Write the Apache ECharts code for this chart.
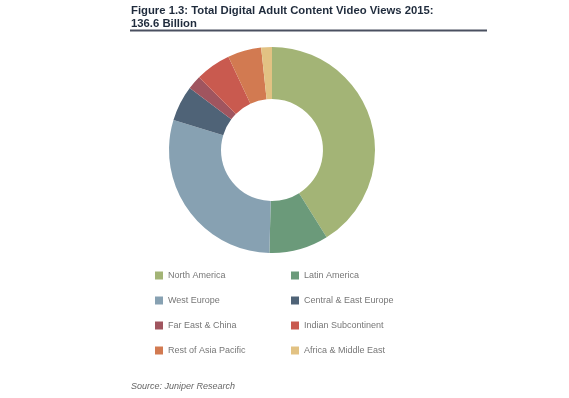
<!DOCTYPE html>
<html>
<head>
<meta charset="utf-8">
<script src="https://cdn.jsdelivr.net/npm/echarts@6/dist/echarts.min.js"></script>
<style>
  html, body { margin: 0; padding: 0; background: #fff; }
  #chart { width: 569px; height: 398px; }
</style>
</head>
<body>
<div id="chart"></div>
<script>
const regions = [
  "North America", "Latin America", "West Europe", "Central & East Europe",
  "Far East & China", "Indian Subcontinent", "Rest of Asia Pacific", "Africa & Middle East"
];
const views = [56.1, 12.7, 40.0, 7.6, 3.0, 7.6, 7.2, 2.3];
const colors = ["#a3b476", "#6b9a7a", "#87a1b2", "#4f6377", "#a0555f", "#c95a4f", "#d27a51", "#e2c283"];

// legend columns
const leftCol = [regions[0], regions[2], regions[4], regions[6]];
const rightCol = [regions[1], regions[3], regions[5], regions[7]];

const chart = echarts.init(document.getElementById("chart"));

const legendBase = {
  orient: "vertical",
  top: 271,
  padding: 0,
  itemWidth: 8,
  itemHeight: 8,
  itemGap: 16,
  icon: "rect",
  selectedMode: false,
  textStyle: { color: "#777", fontSize: 9, fontFamily: "Liberation Sans, Arial" }
};

chart.setOption({
  animation: false,
  color: colors,
  title: [
    {
      text: "Figure 1.3: Total Digital Adult Content Video Views 2015:\n136.6 Billion",
      left: 126,
      top: -1,
      textStyle: {
        color: "#1f2b3c",
        fontSize: 11.3,
        fontWeight: "bold",
        lineHeight: 13,
        fontFamily: "Liberation Sans, Arial"
      }
    },
    {
      text: "Source: Juniper Research",
      left: 126,
      top: 377,
      textStyle: {
        color: "#666",
        fontSize: 9,
        fontStyle: "italic",
        fontWeight: "normal",
        fontFamily: "Liberation Sans, Arial"
      }
    }
  ],
  graphic: [
    {
      type: "line",
      shape: { x1: 130, y1: 30.5, x2: 487, y2: 30.5 },
      style: { stroke: "#4a5060", lineWidth: 2 }
    }
  ],
  legend: [
    Object.assign({}, legendBase, { left: 155, data: leftCol }),
    Object.assign({}, legendBase, { left: 291, data: rightCol })
  ],
  series: [
    {
      type: "pie",
      center: [272, 150],
      radius: [51, 103],
      startAngle: 90,
      clockwise: true,
      label: { show: false },
      labelLine: { show: false },
      silent: true,
      itemStyle: { borderWidth: 0 },
      data: regions.map((name, i) => ({ name: name, value: views[i] }))
    }
  ]
});
</script>
</body>
</html>
